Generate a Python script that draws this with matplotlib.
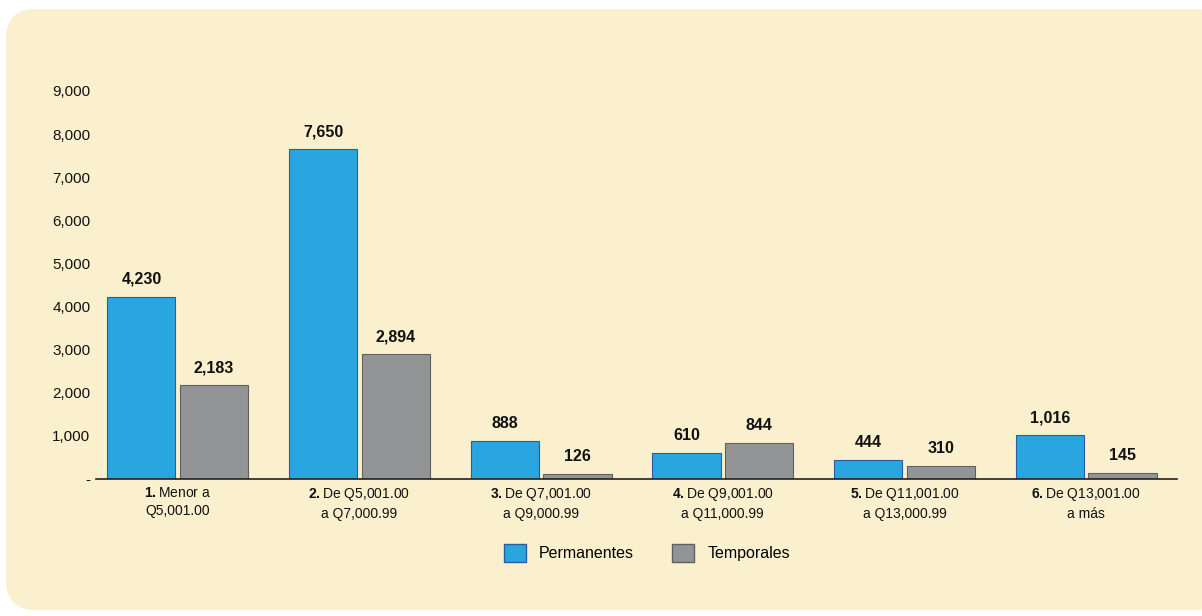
import numpy as np
import matplotlib
matplotlib.use("Agg")
import matplotlib.pyplot as plt  # noqa
from matplotlib.patches import FancyBboxPatch, Patch  # noqa

# data
rangos_num = ['1.', '2.', '3.', '4.', '5.', '6.']
rangos_txt = ['Menor a\nQ5,001.00',
              'De Q5,001.00\na Q7,000.99',
              'De Q7,001.00\na Q9,000.99',
              'De Q9,001.00\na Q11,000.99',
              'De Q11,001.00\na Q13,000.99',
              'De Q13,001.00\na más']
permanentes = [4230, 7650, 888, 610, 444, 1016]
temporales = [2183, 2894, 126, 844, 310, 145]
yticks = [0, 1000, 2000, 3000, 4000, 5000, 6000, 7000, 8000, 9000]

plt.rcParams['font.family'] = ['Liberation Sans', 'DejaVu Sans']
plt.rcParams['mathtext.fontset'] = 'custom'
plt.rcParams['mathtext.rm'] = 'Liberation Sans'
plt.rcParams['mathtext.bf'] = 'Liberation Sans:bold'

cream = '#FAF0CD'
blue = '#29A6DF'
gray = '#929496'

fig = plt.figure(figsize=(12.02, 6.16), dpi=100)
fig.patch.set_facecolor('white')
bg = FancyBboxPatch((6 / 1202, 6 / 616), 1 - 6 / 1202 + 0.02, 1 - 15 / 616,
                    boxstyle='round,pad=0,rounding_size=0.025',
                    transform=fig.transFigure, facecolor=cream,
                    edgecolor='none', zorder=-10,
                    mutation_aspect=1202 / 616)
fig.patches.append(bg)

ax = fig.add_axes([96 / 1202, 137 / 616, 1081 / 1202, 388 / 616])
ax.set_facecolor('none')

x = np.arange(len(permanentes))
w = 0.375
off = 0.2
b1 = ax.bar(x - off, permanentes, w, color=blue, edgecolor='#2A5C9E',
            linewidth=0.8)
b2 = ax.bar(x + off, temporales, w, color=gray, edgecolor='#5E6062',
            linewidth=0.8)

for bars in (b1, b2):
    for r in bars:
        h = r.get_height()
        ax.annotate(f'{h:,.0f}', (r.get_x() + r.get_width() / 2, h),
                    xytext=(0, 7), textcoords='offset points',
                    ha='center', va='bottom', fontsize=11.5,
                    fontweight='bold', color='#111111')

ax.set_xlim(-0.45, 5.5)
ax.set_ylim(0, 9000)
ax.set_yticks(yticks)
ax.set_yticklabels(['-'] + [f'{v:,}' for v in yticks[1:]])
ax.tick_params(axis='y', length=0, pad=4, labelsize=11, colors='#111111')
ax.set_xticks(x)
labels = []
for n, t in zip(rangos_num, rangos_txt):
    l1, l2 = t.split('\n')
    labels.append(r'$\mathbf{' + n + '}$' + l1 + '\n' + l2)
ax.set_xticklabels(labels, fontsize=10, color='#111111', linespacing=1.35)
ax.tick_params(axis='x', length=0, pad=5)

for s in ['top', 'right', 'left']:
    ax.spines[s].set_visible(False)
ax.spines['bottom'].set_color('#222222')
ax.spines['bottom'].set_linewidth(1.2)

handles = [Patch(facecolor=blue, edgecolor='#2A5C9E', label='Permanentes'),
           Patch(facecolor=gray, edgecolor='#5E6062', label='Temporales')]
fig.legend(handles=handles, loc='center', bbox_to_anchor=(0.538, 0.102),
           ncol=2, frameon=False, fontsize=11.5, handlelength=1.4,
           handleheight=1.4, handletextpad=0.8, columnspacing=2.4)

plt.savefig('out.png', dpi=100, facecolor=fig.get_facecolor())
